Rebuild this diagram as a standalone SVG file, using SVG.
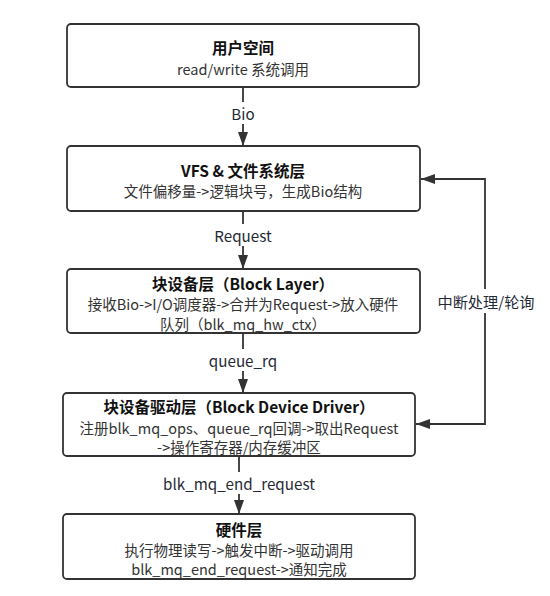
<svg xmlns="http://www.w3.org/2000/svg" width="550" height="596" viewBox="0 0 550 596">
<defs>
<marker id="ah" markerUnits="userSpaceOnUse" markerWidth="14" markerHeight="10" refX="14" refY="5" orient="auto-start-reverse">
<path d="M0,0 L14,5 L0,10 z" fill="#333"/>
</marker>
<style>
.box{fill:#fff;stroke:#333;stroke-width:1.8}
.t{font-family:"Noto Sans CJK SC","Noto Sans",sans-serif;font-size:15.5px;font-weight:bold;fill:#111;text-anchor:middle;dominant-baseline:central}
.s{font-family:"Noto Sans CJK SC","Noto Sans",sans-serif;font-size:14.5px;fill:#333;text-anchor:middle;dominant-baseline:central}
.l{font-family:"Noto Sans CJK SC","Noto Sans",sans-serif;font-size:15.2px;fill:#1f2a36;text-anchor:middle;dominant-baseline:central}
.c{fill:none;stroke:#333;stroke-width:1.8}
</style>
</defs>
<rect width="550" height="596" fill="#fff"/>
<g id="connectors">
<path class="c" d="M243,87 V146" marker-end="url(#ah)"/>
<path class="c" d="M243,211 V269" marker-end="url(#ah)"/>
<path class="c" d="M243,333 V393" marker-end="url(#ah)"/>
<path class="c" d="M239,456 V514" marker-end="url(#ah)"/>
<path class="c" d="M421,179 H485 V424 H416" marker-start="url(#ah)" marker-end="url(#ah)"/>
<rect x="226" y="102" width="34" height="22" fill="#fff"/>
<text class="l" x="243" y="113">Bio</text>
<rect x="210" y="224" width="66" height="22" fill="#fff"/>
<text class="l" x="243" y="235">Request</text>
<rect x="204" y="349" width="78" height="22" fill="#fff"/>
<text class="l" x="243" y="360">queue_rq</text>
<rect x="160" y="472" width="158" height="22" fill="#fff"/>
<text class="l" x="239" y="483">blk_mq_end_request</text>
<rect x="434" y="289" width="104" height="24" fill="#fff"/>
<text class="l" x="486" y="301">中断处理/轮询</text>
</g>
<g id="user-space">
<rect class="box" x="67" y="24" width="352" height="63" rx="4"/>
<text class="t" x="243" y="47">用户空间</text>
<text class="s" x="243" y="68">read/write 系统调用</text>
</g>
<g id="vfs">
<rect class="box" x="67" y="146" width="353" height="65" rx="4"/>
<text class="t" x="243" y="170">VFS &amp; 文件系统层</text>
<text class="s" x="243" y="190">文件偏移量-&gt;逻辑块号，生成Bio结构</text>
</g>
<g id="block-layer">
<rect class="box" x="67" y="269" width="353" height="64" rx="4"/>
<text class="t" x="243" y="283">块设备层（Block Layer）</text>
<text class="s" x="243" y="303">接收Bio-&gt;I/O调度器-&gt;合并为Request-&gt;放入硬件</text>
<text class="s" x="243" y="323">队列（blk_mq_hw_ctx）</text>
</g>
<g id="driver">
<rect class="box" x="63" y="393" width="352" height="63" rx="4"/>
<text class="t" x="239" y="406">块设备驱动层（Block Device Driver）</text>
<text class="s" x="239" y="427">注册blk_mq_ops、queue_rq回调-&gt;取出Request</text>
<text class="s" x="239" y="446">-&gt;操作寄存器/内存缓冲区</text>
</g>
<g id="hardware">
<rect class="box" x="63" y="514" width="352" height="65" rx="4"/>
<text class="t" x="239" y="529">硬件层</text>
<text class="s" x="239" y="549">执行物理读写-&gt;触发中断-&gt;驱动调用</text>
<text class="s" x="239" y="568">blk_mq_end_request-&gt;通知完成</text>
</g>
</svg>
